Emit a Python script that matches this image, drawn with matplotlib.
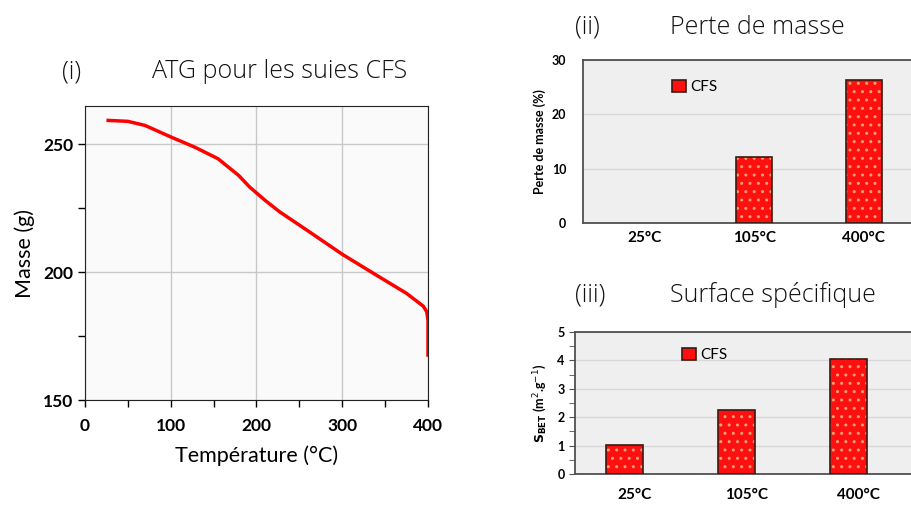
import numpy as np
import matplotlib.pyplot as plt
from matplotlib.ticker import MultipleLocator
from matplotlib.patches import Patch

# ATG curve
temp = [25, 50, 70, 100, 128, 155, 179, 192, 210, 227, 262, 300, 340, 375, 394.5, 398.5, 400, 400]
masse = [259.4, 259.0, 257.4, 252.9, 248.9, 244.4, 237.9, 233.3, 228.1, 223.6, 215.7, 207.0,
         198.8, 191.7, 186.7, 184.5, 181.3, 166.9]

# bar panels
cats = ['25°C', '105°C', '400°C']
perte = [0, 12.2, 26.3]
sbet = [1.03, 2.27, 4.05]

W, H = 912, 508
fig = plt.figure(figsize=(W / 100, H / 100), dpi=100)

def box(l, t, r, b):
    return [l / W, 1 - b / H, (r - l) / W, (b - t) / H]

tick_font = dict(family='Lato', weight='bold')
title_font = dict(family='Open Sans', weight='light', size=18, color='#111111')

# ---- (i) ATG
ax1 = fig.add_axes(box(85, 106, 428, 400))
ax1.set_facecolor('#fafafa')
ax1.plot(temp, masse, color='red', lw=2.5, solid_capstyle='butt', solid_joinstyle='round')
ax1.set_xlim(0, 400)
ax1.set_ylim(150, 265)
ax1.set_xticks([0, 100, 200, 300, 400])
ax1.set_yticks([150, 200, 250])
ax1.xaxis.set_minor_locator(MultipleLocator(50))
ax1.yaxis.set_minor_locator(MultipleLocator(25))
ax1.grid(True, which='major', color='#c8c8c8', lw=1)
ax1.set_axisbelow(True)
ax1.tick_params(which='both', direction='out', length=5, width=1, labelsize=12.5)
for lab in ax1.get_xticklabels() + ax1.get_yticklabels():
    lab.set(**tick_font)
ax1.tick_params(axis='x', pad=8)
for s in ax1.spines.values():
    s.set_color('#222222')
ax1.set_xlabel('Température (°C)', family='Lato', size=15.5, labelpad=8)
ax1.set_ylabel('Masse (g)', family='Lato', size=15.5, labelpad=6)
fig.text(62 / W, 1 - 72 / H, '(i)', va='center', **title_font)
fig.text(152 / W, 1 - 72 / H, 'ATG pour les suies CFS', va='center', **title_font)

def bar_panel(ax, vals, pos_shift):
    x = np.arange(len(cats))
    edge_w = [1.2 if v > 0 else 0 for v in vals]
    ax.set_facecolor('#efefef')
    ax.bar(x + pos_shift, vals, width=0.33, color='#ff1010', edgecolor='#f2a070',
           hatch='..', lw=0, zorder=2)
    ax.bar(x + pos_shift, vals, width=0.33, fill=False, edgecolor='#3a1a10', lw=edge_w, zorder=3)
    ax.set_xticks(x)
    ax.set_xticklabels(cats, **tick_font, size=11)
    ax.tick_params(axis='x', length=0)
    ax.grid(True, axis='y', color='#d8d8d8', lw=1)
    ax.set_axisbelow(True)
    for s in ['top', 'left', 'bottom']:
        ax.spines[s].set_color('#505050')
        ax.spines[s].set_linewidth(1.3)
    ax.spines['right'].set_visible(False)
    return x

leg_handle = [Patch(facecolor='#ff1010', edgecolor='#3a1a10', lw=1.2, label='CFS')]
leg_kw = dict(handles=leg_handle, loc='center left', frameon=False,
              prop=dict(family='Lato', size=11), handlelength=0.9, handleheight=0.9,
              handletextpad=0.3, borderpad=0, borderaxespad=0)

# ---- (ii) perte de masse
ax2 = fig.add_axes(box(583, 60, 912, 223))
bar_panel(ax2, perte, 0)
ax2.set_xlim(-0.566, 2.44)
ax2.set_ylim(0, 30)
ax2.set_yticks([0, 10, 20, 30])
ax2.tick_params(axis='y', length=0, labelsize=9, pad=12)
for lab in ax2.get_yticklabels():
    lab.set(**tick_font)
ax2.tick_params(axis='x', pad=6)
ax2.set_ylabel('Perte de masse (%)', family='Lato', weight='bold', size=9, labelpad=4)
ax2.legend(bbox_to_anchor=((672 - 583) / 329, 1 - (87 - 60) / 163), **leg_kw)
fig.text(575 / W, 1 - 27 / H, '(ii)', va='center', **title_font)
fig.text(670 / W, 1 - 27 / H, 'Perte de masse', va='center', **title_font)

# ---- (iii) surface specifique
ax3 = fig.add_axes(box(575, 332, 912, 474))
bar_panel(ax3, sbet, -0.09)
ax3.set_xlim(-0.536, 2.48)
ax3.set_ylim(0, 5)
ax3.set_yticks([0, 1, 2, 3, 4, 5])
ax3.yaxis.set_minor_locator(MultipleLocator(0.5))
ax3.tick_params(axis='y', which='both', direction='out', length=4, labelsize=9, color='#505050')
for lab in ax3.get_yticklabels():
    lab.set(**tick_font)
ax3.tick_params(axis='x', pad=10)
ax3.set_ylabel(r'$\mathbf{S_{BET}}$ (m$^2$.g$^{-1}$)', family='Lato', weight='bold', size=9, labelpad=6)
ax3.legend(bbox_to_anchor=((682 - 575) / 337, 1 - (355 - 332) / 142), **leg_kw)
fig.text(575 / W, 1 - 295 / H, '(iii)', va='center', **title_font)
fig.text(670 / W, 1 - 295 / H, 'Surface spécifique', va='center', **title_font)

fig.savefig('out.png', dpi=100, facecolor='white')
